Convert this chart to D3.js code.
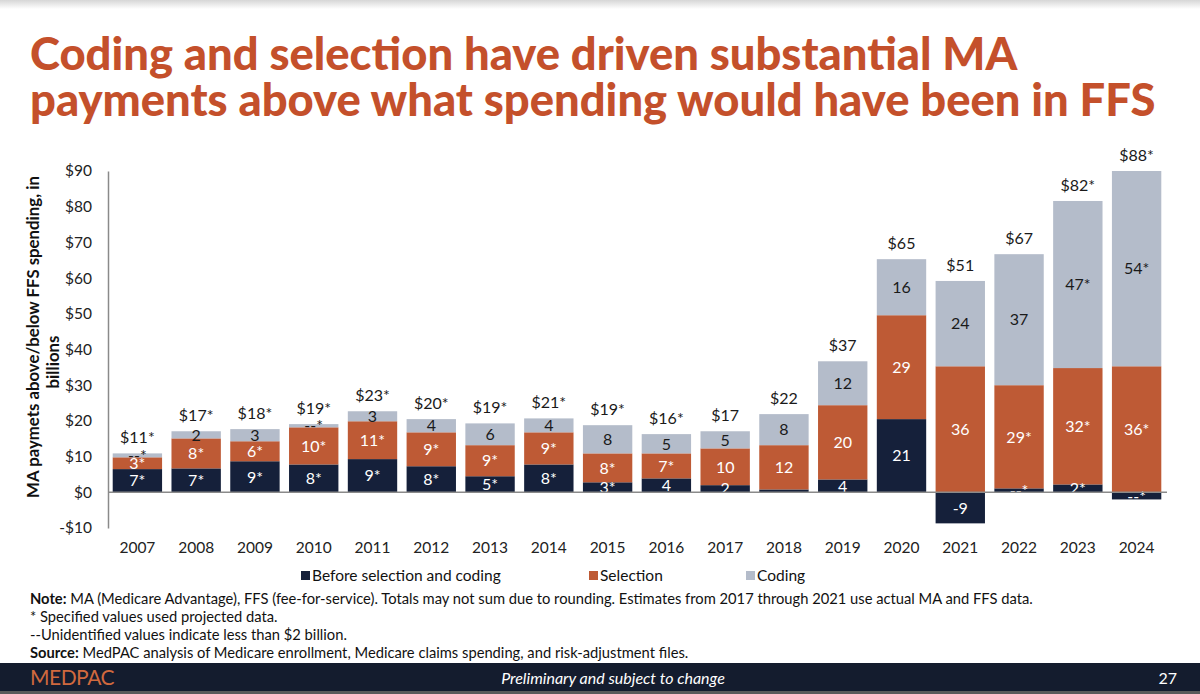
<!DOCTYPE html>
<html>
<head>
<meta charset="utf-8">
<script src="https://cdn.jsdelivr.net/npm/d3@7/dist/d3.min.js"></script>
<style>
  html, body { margin: 0; padding: 0; background: #fff; }
  svg { display: block; }
  text { font-family: Lato, "Open Sans", sans-serif; }
</style>
</head>
<body>
<svg id="chart" width="1200" height="694"></svg>
<script>
// ---- Data ----
const years = ["2007","2008","2009","2010","2011","2012","2013","2014","2015","2016","2017","2018","2019","2020","2021","2022","2023","2024"];
const beforeVals    = [6.5, 6.7, 8.7, 7.8, 9.3, 7.3, 4.5, 7.8, 2.8, 3.9, 2.0, 0.8, 3.6, 20.5, -8.7, 1.1, 2.2, -2.0];
const selectionVals = [3.3, 8.4, 5.6, 10.4, 10.6, 9.5, 8.7, 9.0, 8.1, 7.0, 10.3, 12.4, 20.8, 29.1, 35.3, 28.9, 32.6, 35.3];
const codingVals    = [1.1, 2.0, 3.4, 0.9, 2.8, 3.7, 6.1, 3.9, 7.9, 5.4, 4.8, 8.7, 12.3, 15.7, 23.9, 36.7, 46.8, 54.7];
const beforeLabels    = ["7*","7*","9*","8*","9*","8*","5*","8*","3*","4","2","--","4","21","-9","--*","2*","--*"];
const selectionLabels = ["3*","8*","6*","10*","11*","9*","9*","9*","8*","7*","10","12","20","29","36","29*","32*","36*"];
const codingLabels    = ["--*","2","3","--*","3","4","6","4","8","5","5","8","12","16","24","37","47*","54*"];
const totalLabels     = ["$11*","$17*","$18*","$19*","$23*","$20*","$19*","$21*","$19*","$16*","$17","$22","$37","$65","$51","$67","$82*","$88*"];
const yTicks = [-10, 0, 10, 20, 30, 40, 50, 60, 70, 80, 90];
const seriesKeys = ["before", "selection", "coding"];
const seriesNames = ["Before selection and coding", "Selection", "Coding"];
const seriesColors = ["#15203A", "#BE5A35", "#B4BCCA"];
const labelColors = ["#ffffff", "#ffffff", "#1a1a1a"];
const seriesLabels = [beforeLabels, selectionLabels, codingLabels];

const table = years.map((yr, i) => ({
  year: yr, before: beforeVals[i], selection: selectionVals[i], coding: codingVals[i]
}));

// ---- Setup ----
const svg = d3.select("#chart");
const W = 1200, H = 694;

// top shadow
const defs = svg.append("defs");
const grad = defs.append("linearGradient").attr("id", "topShade").attr("x1", 0).attr("y1", 0).attr("x2", 0).attr("y2", 1);
grad.append("stop").attr("offset", "0%").attr("stop-color", "#d6d6d6");
grad.append("stop").attr("offset", "100%").attr("stop-color", "#ffffff");
svg.append("rect").attr("x", 0).attr("y", 0).attr("width", W).attr("height", 9).attr("fill", "url(#topShade)");

// ---- Title ----
const titleLines = ["Coding and selection have driven substantial MA", "payments above what spending would have been in FFS"];
const titleG = svg.append("g");
const t2 = titleG.append("text").attr("x", 30).attr("y", 116).attr("font-size", 42).attr("font-weight", 900)
  .attr("fill", "#C4502B").text(titleLines[1]);
const w2 = t2.node().getComputedTextLength();
const titleSize = 42 * 1126 / w2;
t2.attr("font-size", titleSize);
titleG.append("text").attr("x", 30).attr("y", 70).attr("font-size", titleSize).attr("font-weight", 900)
  .attr("fill", "#C4502B").text(titleLines[0]);

// ---- Scales ----
const x = d3.scaleBand().domain(years).range([108, 1166]).paddingInner(0.16).paddingOuter(0.08);
const y = d3.scaleLinear().domain([-10, 90]).range([528, 171]);

const stack = d3.stack().keys(seriesKeys).offset(d3.stackOffsetDiverging);
const stacked = stack(table);

// ---- Bars ----
const barsG = svg.append("g");
stacked.forEach((layer, si) => {
  barsG.selectAll(null).data(layer).enter().append("rect")
    .attr("x", d => x(d.data.year))
    .attr("width", x.bandwidth())
    .attr("y", d => y(Math.max(d[0], d[1])))
    .attr("height", d => Math.abs(y(d[0]) - y(d[1])))
    .attr("fill", seriesColors[si]);
});

// ---- Segment labels ----
const labG = svg.append("g");
stacked.forEach((layer, si) => {
  labG.selectAll(null).data(layer).enter().append("text")
    .attr("x", d => x(d.data.year) + x.bandwidth() / 2)
    .attr("y", d => (y(d[0]) + y(d[1])) / 2)
    .attr("dy", "0.36em")
    .attr("text-anchor", "middle")
    .attr("font-size", 16)
    .attr("fill", labelColors[si])
    .text((d, i) => seriesLabels[si][i]);
});

// ---- Total labels ----
const tops = years.map((yr, i) => d3.max(stacked, layer => Math.max(layer[i][0], layer[i][1])));
svg.append("g").selectAll(null).data(years).enter().append("text")
  .attr("x", d => x(d) + x.bandwidth() / 2)
  .attr("y", (d, i) => y(tops[i]) - 10)
  .attr("text-anchor", "middle")
  .attr("font-size", 16)
  .attr("fill", "#1a1a1a")
  .text((d, i) => totalLabels[i]);

// ---- Axes ----
const yAxis = d3.axisLeft(y).tickValues(yTicks).tickSize(0).tickPadding(16)
  .tickFormat(v => (v < 0 ? "-$" : "$") + Math.abs(v));
const yAxisG = svg.append("g").attr("transform", "translate(108,0)").call(yAxis);
yAxisG.select(".domain").attr("stroke", "#8a8a8a").attr("stroke-width", 1.5);
yAxisG.selectAll("text").attr("font-size", 15.5).attr("fill", "#222").attr("font-family", "Lato, sans-serif");

// zero line
svg.append("line").attr("x1", 108).attr("x2", 1167).attr("y1", y(0)).attr("y2", y(0))
  .attr("stroke", "#8a8a8a").attr("stroke-width", 1.5);

const xAxis = d3.axisBottom(x).tickSize(0).tickPadding(0);
const xAxisG = svg.append("g").attr("transform", "translate(0,542)").call(xAxis);
xAxisG.select(".domain").remove();
xAxisG.selectAll("text").attr("font-size", 15.5).attr("fill", "#222").attr("font-family", "Lato, sans-serif");

// ---- Y-axis title ----
svg.append("text").attr("transform", "translate(39,337) rotate(-90)").attr("text-anchor", "middle")
  .attr("font-size", 16.8).attr("font-weight", 700).attr("fill", "#111")
  .text("MA paymets above/below  FFS spending, in");
svg.append("text").attr("transform", "translate(59,362) rotate(-90)").attr("text-anchor", "middle")
  .attr("font-size", 16.8).attr("font-weight", 700).attr("fill", "#111")
  .text("billions");

// ---- Legend ----
const legendX = [301, 589, 746];
const legG = svg.append("g");
seriesNames.forEach((name, i) => {
  legG.append("rect").attr("x", legendX[i]).attr("y", 571).attr("width", 9).attr("height", 9).attr("fill", seriesColors[i]);
  legG.append("text").attr("x", legendX[i] + 11).attr("y", 581).attr("font-size", 15.5).attr("fill", "#111").text(name);
});

// ---- Notes ----
const noteG = svg.append("g").attr("fill", "#111");
const n1 = noteG.append("text").attr("x", 30).attr("y", 604).attr("font-size", 14);
n1.append("tspan").attr("font-weight", 700).text("Note:");
n1.append("tspan").text(" MA (Medicare Advantage), FFS (fee-for-service). Totals may not sum due to rounding. Estimates from 2017 through 2021 use actual MA and FFS data.");
const nw = n1.node().getComputedTextLength();
const noteSize = 14 * 1003 / nw;
n1.attr("font-size", noteSize);
noteG.append("text").attr("x", 30).attr("y", 622).attr("font-size", noteSize).text("* Specified values used projected data.");
noteG.append("text").attr("x", 30).attr("y", 640).attr("font-size", noteSize).text("--Unidentified values indicate less than $2 billion.");
const n4 = noteG.append("text").attr("x", 30).attr("y", 658).attr("font-size", noteSize);
n4.append("tspan").attr("font-weight", 700).text("Source:");
n4.append("tspan").text(" MedPAC analysis of Medicare enrollment, Medicare claims spending, and risk-adjustment files.");

// ---- Footer ----
svg.append("rect").attr("x", 0).attr("y", 663).attr("width", W).attr("height", 28).attr("fill", "#141C2E");
svg.append("rect").attr("x", 0).attr("y", 691).attr("width", W).attr("height", 3).attr("fill", "#5a5a5a");
svg.append("text").attr("x", 30).attr("y", 685).attr("font-size", 21).attr("fill", "#D0693E")
  .attr("letter-spacing", -0.5).text("MEDPAC");
svg.append("text").attr("x", 613).attr("y", 684).attr("text-anchor", "middle").attr("font-size", 16)
  .attr("font-style", "italic").attr("fill", "#ffffff").text("Preliminary and subject to change");
svg.append("text").attr("x", 1177).attr("y", 684).attr("text-anchor", "end").attr("font-size", 16)
  .attr("fill", "#ffffff").text("27");
</script>
</body>
</html>
